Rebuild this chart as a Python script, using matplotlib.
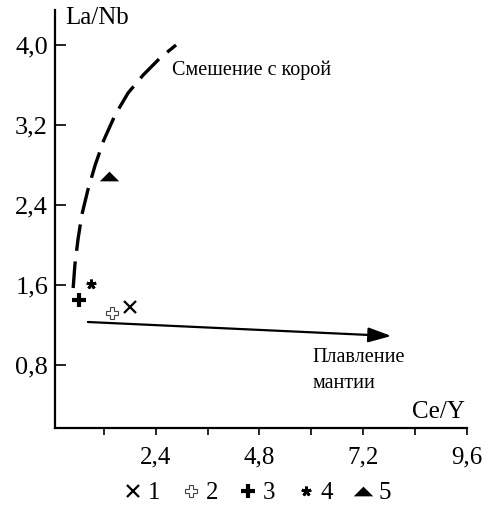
import numpy as np
import matplotlib
matplotlib.use("Agg")
import matplotlib.pyplot as plt
from matplotlib.lines import Line2D

plt.rcParams['font.family'] = ['Liberation Serif', 'DejaVu Serif']

# данные
x_ticks = [2.4, 4.8, 7.2, 9.6]
x_ticklabels = ['2,4', '4,8', '7,2', '9,6']
x_minor = [1.2, 3.6, 6.0, 8.4]
y_ticks = [0.8, 1.6, 2.4, 3.2, 4.0]
y_ticklabels = ['0,8', '1,6', '2,4', '3,2', '4,0']

# кривая смешения с корой
mix_x = [0.49, 0.53, 0.60, 0.69, 0.83, 1.00, 1.20, 1.46, 1.76, 2.11, 2.50, 2.87]
mix_y = [1.57, 1.80, 2.05, 2.30, 2.55, 2.80, 3.05, 3.30, 3.52, 3.70, 3.87, 4.00]

# стрелка плавления мантии
melt_start = (0.83, 1.23)
melt_end = (7.85, 1.09)

# точки
pt_x = [1.81, 1.39, 0.63, 0.90, 1.32]
pt_y = [1.38, 1.32, 1.45, 1.61, 2.69]
pt_labels = ['1', '2', '3', '4', '5']

tri = [(-1, -0.5), (1, -0.5), (0, 0.5), (-1, -0.5)]
styles = [
    dict(marker='x', ms=8, mew=1.6, mfc='black', mec='black'),
    dict(marker='P', ms=9, mew=0.8, mfc='white', mec='#444444'),
    dict(marker='+', ms=10, mew=3.0, mfc='black', mec='black'),
    dict(marker=(5, 2, 0), ms=7, mew=2.0, mfc='black', mec='black'),
    dict(marker=tri, ms=14, mew=0, mfc='black', mec='black'),
]

fig = plt.figure(figsize=(4.95, 5.08), dpi=100)
ax = fig.add_axes([55 / 495, 1 - 428 / 508, (467 - 55) / 495, 418 / 508])

ax.plot(mix_x, mix_y, color='black', lw=2.4, dashes=(8, 3.2))
ax.annotate('', xy=melt_end, xytext=melt_start,
            arrowprops=dict(arrowstyle='-|>,head_length=1.4,head_width=0.45',
                            color='black', lw=1.6, shrinkA=0, shrinkB=0))

for i in range(len(pt_x)):
    ax.plot([pt_x[i]], [pt_y[i]], ls='none', **styles[i])

ax.text(2.77, 3.75, 'Смешение с корой', fontsize=14.5, va='center', ha='left')
ax.text(6.02, 0.87, 'Плавление', fontsize=14.5, va='center', ha='left')
ax.text(6.02, 0.61, 'мантии', fontsize=14.5, va='center', ha='left')
ax.text(0.30, 4.27, 'La/Nb', fontsize=18, va='center', ha='left')
ax.text(9.56, 0.33, 'Ce/Y', fontsize=18, va='center', ha='right')

ax.set_xlim(0.07, 9.6)
ax.set_ylim(0.17, 4.35)
ax.set_xticks(x_ticks)
ax.set_xticklabels(x_ticklabels, fontsize=18)
ax.set_xticks(x_minor, minor=True)
ax.set_yticks(y_ticks)
ax.set_yticklabels(y_ticklabels, fontsize=19)
ax.tick_params(axis='x', which='both', direction='out', length=5, width=1.2, pad=8)
ax.tick_params(axis='y', direction='in', length=8, width=1.2, pad=5)
ax.spines['top'].set_visible(False)
ax.spines['right'].set_visible(False)
ax.spines['left'].set_linewidth(1.6)
ax.spines['bottom'].set_linewidth(1.6)

handles = [Line2D([], [], ls='none', **s) for s in styles]
fig.legend(handles, pt_labels, loc='center', bbox_to_anchor=(258 / 495, 1 - 493 / 508),
           ncol=5, frameon=False, fontsize=18, handlelength=0.6, handletextpad=0.3,
           columnspacing=0.9, borderpad=0)

fig.savefig('out.png', dpi=100)
